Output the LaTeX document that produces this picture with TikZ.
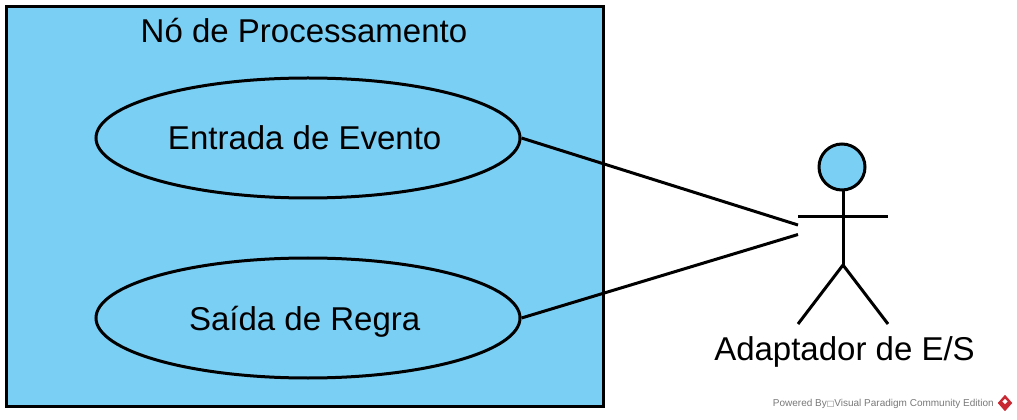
\documentclass[tikz,border=0pt]{standalone}
\usepackage{fontspec}
\setmainfont{Liberation Sans}
\newfontfamily\boxfont{DejaVu Sans}
\usetikzlibrary{shapes.geometric}
\definecolor{nodeblue}{RGB}{122,207,245}
\definecolor{vpgray}{RGB}{120,120,120}
\definecolor{vpred}{RGB}{200,40,50}

\begin{document}
\begin{tikzpicture}[x=0.75pt,y=-0.75pt,
    usecase/.style ={ellipse, draw, line width=2.25pt, fill=nodeblue, minimum width=318pt, minimum height=90pt, inner sep=0pt, text height=18pt, text depth=0pt, font=\fontsize{24.75}{28}\selectfont},
    limb/.style ={line width=2.25pt},
    label/.style ={font=\fontsize{24.75}{28}\selectfont, inner sep=0pt, anchor=base}]
   \useasboundingbox (0,0) rectangle (1017,420);
   \node[draw, line width=2.25pt, fill=nodeblue, minimum width=448pt, minimum height=299.25pt, inner sep=0pt] (system) at (305,206.5) {};
   \node[label] (title) at (304,43) {Nó de Processamento};
   \node[usecase] (entrada) at (308,138) {\hspace*{-5pt}Entrada de Evento};
   \node[usecase] (saida) at (308,318) {\hspace*{-5pt}Saída de Regra};

   \node[circle, draw, line width=2.25pt, fill=nodeblue, minimum size=34.5pt, inner sep=0pt] (head) at (842,167) {};
   \coordinate (hip) at (843,265);
   \coordinate (armL) at (798,216.5);
   \coordinate (armR) at (888,216.5);
   \coordinate (footL) at (798,324);
   \coordinate (footR) at (888,324);
   \coordinate (endA) at (798,225);
   \coordinate (endB) at (798,234.5);
   \node[label] (actor) at (844.5,360) {Adaptador de E/S};
   \draw[limb] (head.south -| hip) to (hip);
   \draw[limb] (armL) to (armR);
   \draw[limb] (footL) to (hip);
   \draw[limb] (hip) to (footR);

   \draw[limb] (entrada.east) to (endA);
   \draw[limb] (saida.east) to (endB);

   \node[font=\fontsize{7.5}{9}\selectfont, text=vpgray, inner sep=0pt, anchor=east] (powered) at (994,404) {Powered By{\boxfont\fontsize{6}{9}\selectfont □}Visual Paradigm Community Edition};
   \node[diamond, fill=vpred, minimum width=11pt, minimum height=12.5pt, inner sep=0pt] (logo) at (1005,403) {};
   \node[diamond, fill=white, minimum width=4pt, minimum height=4pt, inner sep=0pt] (logomark) at (1005,401.5) {};
\end{tikzpicture}
\end{document}
